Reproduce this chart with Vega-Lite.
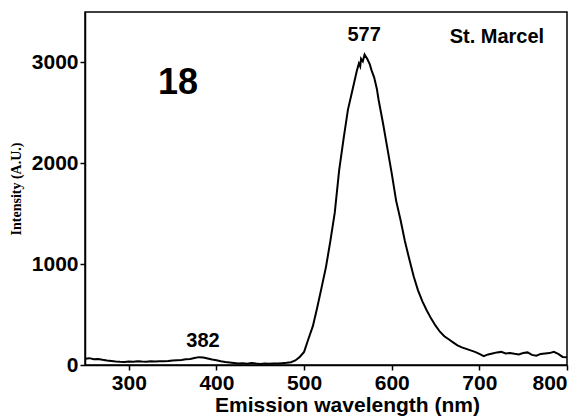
{
  "$schema": "https://vega.github.io/schema/vega-lite/v6.json",
  "autosize": "none",
  "width": 482,
  "height": 353,
  "padding": {"left": 85, "top": 12, "right": 18, "bottom": 55},
  "background": "white",
  "config": {
    "view": {"stroke": "black", "strokeWidth": 1.5},
    "axis": {
      "grid": false,
      "domainColor": "black",
      "domainWidth": 1.5,
      "tickColor": "black",
      "tickWidth": 1.5,
      "tickSize": 5,
      "labelFont": "Liberation Sans",
      "labelFontWeight": "bold",
      "labelFontSize": 21,
      "labelColor": "black",
      "labelPadding": 2,
      "titleColor": "black"
    }
  },
  "datasets": {
    "spectrum": [
      {"wl": 250, "I": 62}, {"wl": 255, "I": 68}, {"wl": 260, "I": 58}, {"wl": 265, "I": 60}, {"wl": 270, "I": 52},
      {"wl": 275, "I": 45}, {"wl": 280, "I": 40}, {"wl": 285, "I": 35}, {"wl": 290, "I": 32}, {"wl": 295, "I": 30},
      {"wl": 300, "I": 35}, {"wl": 305, "I": 32}, {"wl": 310, "I": 38}, {"wl": 315, "I": 35}, {"wl": 320, "I": 33},
      {"wl": 325, "I": 36}, {"wl": 330, "I": 34}, {"wl": 335, "I": 38}, {"wl": 340, "I": 36}, {"wl": 345, "I": 40},
      {"wl": 350, "I": 45}, {"wl": 355, "I": 48}, {"wl": 360, "I": 50}, {"wl": 365, "I": 56}, {"wl": 370, "I": 60},
      {"wl": 375, "I": 70}, {"wl": 380, "I": 78}, {"wl": 385, "I": 75}, {"wl": 390, "I": 65}, {"wl": 395, "I": 55},
      {"wl": 400, "I": 48}, {"wl": 405, "I": 38}, {"wl": 410, "I": 30}, {"wl": 415, "I": 25}, {"wl": 420, "I": 20},
      {"wl": 425, "I": 15}, {"wl": 430, "I": 18}, {"wl": 435, "I": 12}, {"wl": 440, "I": 20}, {"wl": 445, "I": 14},
      {"wl": 450, "I": 10}, {"wl": 455, "I": 14}, {"wl": 460, "I": 12}, {"wl": 465, "I": 16}, {"wl": 470, "I": 14},
      {"wl": 475, "I": 18}, {"wl": 480, "I": 22}, {"wl": 485, "I": 28}, {"wl": 490, "I": 45}, {"wl": 495, "I": 80},
      {"wl": 500, "I": 130}, {"wl": 505, "I": 260}, {"wl": 510, "I": 385}, {"wl": 515, "I": 570}, {"wl": 520, "I": 770},
      {"wl": 525, "I": 973}, {"wl": 530, "I": 1230}, {"wl": 535, "I": 1510}, {"wl": 540, "I": 1930}, {"wl": 545, "I": 2240},
      {"wl": 550, "I": 2530}, {"wl": 555, "I": 2720}, {"wl": 560, "I": 2910}, {"wl": 562.5, "I": 2990}, {"wl": 564, "I": 2960},
      {"wl": 565, "I": 3036}, {"wl": 567, "I": 3010}, {"wl": 569, "I": 3079}, {"wl": 572, "I": 3036}, {"wl": 575, "I": 2980},
      {"wl": 577, "I": 2921}, {"wl": 580, "I": 2850}, {"wl": 583, "I": 2740}, {"wl": 585, "I": 2630}, {"wl": 590, "I": 2400},
      {"wl": 595, "I": 2150}, {"wl": 600, "I": 1900}, {"wl": 605, "I": 1630}, {"wl": 610, "I": 1440}, {"wl": 615, "I": 1230},
      {"wl": 620, "I": 1050}, {"wl": 625, "I": 880}, {"wl": 630, "I": 740}, {"wl": 635, "I": 630}, {"wl": 640, "I": 540},
      {"wl": 645, "I": 460}, {"wl": 650, "I": 390}, {"wl": 655, "I": 330}, {"wl": 660, "I": 285}, {"wl": 665, "I": 255},
      {"wl": 670, "I": 225}, {"wl": 675, "I": 195}, {"wl": 680, "I": 175}, {"wl": 685, "I": 160}, {"wl": 690, "I": 145},
      {"wl": 695, "I": 130}, {"wl": 700, "I": 110}, {"wl": 705, "I": 88}, {"wl": 710, "I": 105}, {"wl": 715, "I": 115},
      {"wl": 720, "I": 125}, {"wl": 725, "I": 130}, {"wl": 730, "I": 115}, {"wl": 735, "I": 120}, {"wl": 740, "I": 112},
      {"wl": 745, "I": 105}, {"wl": 750, "I": 118}, {"wl": 755, "I": 125}, {"wl": 760, "I": 100}, {"wl": 765, "I": 92},
      {"wl": 770, "I": 110}, {"wl": 775, "I": 115}, {"wl": 780, "I": 118}, {"wl": 785, "I": 130}, {"wl": 790, "I": 110},
      {"wl": 795, "I": 80}, {"wl": 800, "I": 78}
    ],
    "labels": [
      {"wl": 568.5, "I": 3267, "text": "577", "kind": "peak"},
      {"wl": 384.7, "I": 238, "text": "382", "kind": "peak"},
      {"wl": 720, "I": 3248, "text": "St. Marcel", "kind": "peak"},
      {"wl": 356, "I": 2792, "text": "18", "kind": "big"}
    ]
  },
  "layer": [
    {
      "data": {"name": "spectrum"},
      "mark": {"type": "line", "color": "black", "strokeWidth": 2, "clip": true},
      "encoding": {
        "x": {
          "field": "wl", "type": "quantitative",
          "scale": {"domain": [250, 800], "nice": false, "zero": false},
          "axis": {
            "values": [300, 400, 500, 600, 700, 800],
            "format": "d",
            "title": "Emission wavelength (nm)",
            "titleFont": "Liberation Sans",
            "titleFontWeight": "bold",
            "titleFontSize": 21,
            "titlePadding": 1,
            "titleX": 262
          }
        },
        "y": {
          "field": "I", "type": "quantitative",
          "scale": {"domain": [0, 3500], "nice": false},
          "axis": {
            "values": [0, 1000, 2000, 3000],
            "format": "d",
            "title": "Intensity  (A.U.)",
            "titleFont": "Liberation Serif",
            "titleFontWeight": "bold",
            "titleFontSize": 14,
            "titlePadding": 8
          }
        }
      }
    },
    {
      "data": {"name": "labels"},
      "transform": [{"filter": "datum.kind == 'peak'"}],
      "mark": {"type": "text", "font": "Liberation Sans", "fontWeight": "bold", "fontSize": 20, "color": "black", "baseline": "middle", "align": "center"},
      "encoding": {
        "x": {"field": "wl", "type": "quantitative"},
        "y": {"field": "I", "type": "quantitative"},
        "text": {"field": "text"}
      }
    },
    {
      "data": {"name": "labels"},
      "transform": [{"filter": "datum.kind == 'big'"}],
      "mark": {"type": "text", "font": "Liberation Sans", "fontWeight": "bold", "fontSize": 36, "color": "black", "baseline": "middle", "align": "center"},
      "encoding": {
        "x": {"field": "wl", "type": "quantitative"},
        "y": {"field": "I", "type": "quantitative"},
        "text": {"field": "text"}
      }
    }
  ]
}
